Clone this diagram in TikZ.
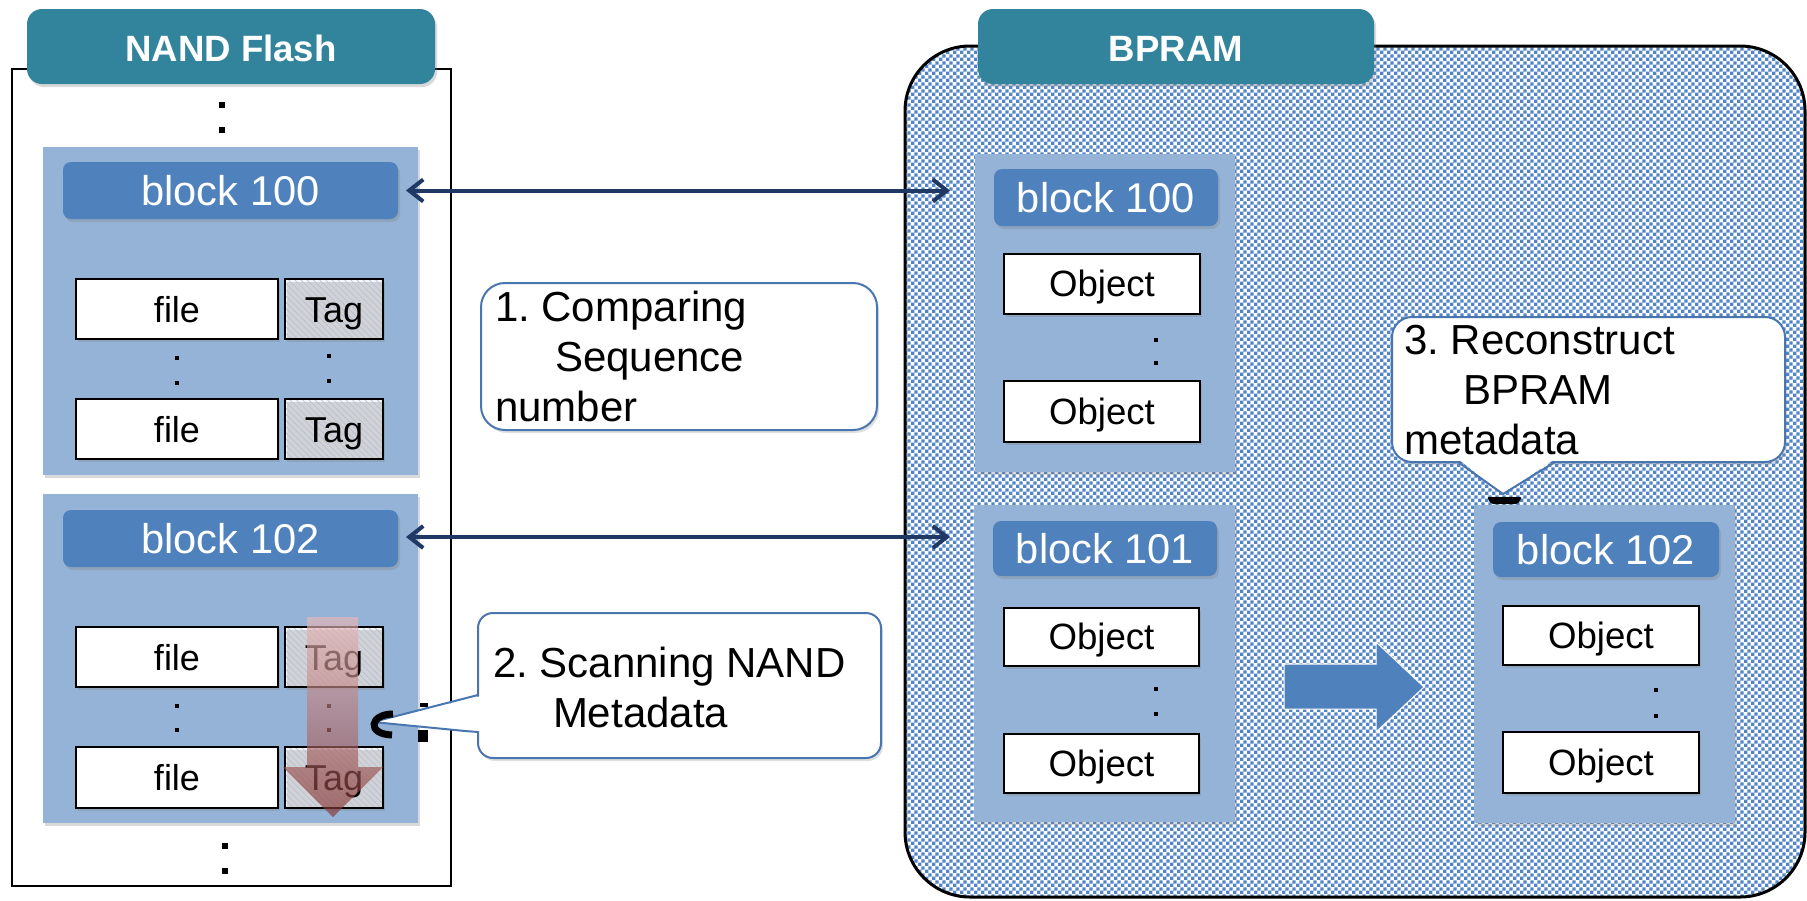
\documentclass[tikz,border=0pt]{standalone}
\usepackage{fontspec}
\setmainfont{Liberation Sans}
\usetikzlibrary{shadows,fadings,patterns,patterns.meta,arrows.meta}
\definecolor{hdrteal}{HTML}{31849B}
\definecolor{contblue}{HTML}{95B3D7}
\definecolor{hdrblue}{HTML}{4F81BD}
\definecolor{arrnavy}{HTML}{1F3864}
\definecolor{callblue}{HTML}{4A76B0}
\definecolor{arrtop}{HTML}{E8B8B8}
\definecolor{arrbot}{HTML}{853432}
\definecolor{chkblue}{HTML}{5285C8}
\definecolor{tagbg}{HTML}{F4F6FA}
\definecolor{taglines}{HTML}{B4C0D4}
\pgfdeclarepatternformonly{checker}{\pgfpointorigin}{\pgfpoint{3.4pt}{3.4pt}}{\pgfpoint{3.4pt}{3.4pt}}{%
  \pgfpathrectangle{\pgfpointorigin}{\pgfpoint{1.7pt}{1.7pt}}%
  \pgfpathrectangle{\pgfpoint{1.7pt}{1.7pt}}{\pgfpoint{1.7pt}{1.7pt}}%
  \pgfusepath{fill}}
\newcommand\mybox[7]{\node[#1, minimum width={(#5-#3)*0.5pt}, minimum height={(#6-#4)*0.5pt}] (#2) at ({(#3+#5)/2},{(#4+#6)/2}) {#7};}
\tikzset{
  shd/.style={drop shadow={opacity=0.3, shadow xshift=1pt, shadow yshift=-1.5pt}},
  outerN/.style={draw=black, line width=1pt},
  outerB/.style={draw=black, line width=1.5pt, rounded corners=32.5pt, preaction={fill=white}, pattern=checker, pattern color=chkblue},
  hdr/.style={fill=hdrteal, rounded corners=7.5pt, text=white, font=\bfseries\fontsize{18.3}{22}\selectfont, text height=15pt, text depth=0pt, shd},
  cont/.style={fill=contblue, shd},
  bhdr/.style={fill=hdrblue, rounded corners=4pt, text=white, font=\fontsize{20.8}{24}\selectfont, text height=14.5pt, text depth=0pt, shd},
  filebox/.style={fill=white, draw=black, line width=1pt, font=\fontsize{18}{20}\selectfont, text height=13pt, text depth=0pt, shd},
  tagbox/.style={draw=black, line width=1pt, preaction={fill=tagbg}, pattern={Lines[angle=-45,distance=2.2pt,line width=0.3pt]}, pattern color=taglines, font=\fontsize{18}{20}\selectfont, text height=13pt, text depth=0pt, shd},
  objbox/.style={fill=white, draw=black, line width=1pt, font=\fontsize{18.3}{20}\selectfont, text height=12.8pt, text depth=0pt, shd},
  bigdot/.style={fill=black, minimum size=3pt},
  smalldot/.style={fill=black, minimum size=2.2pt},
  dblarrow/.style={draw=arrnavy, line width=2pt, {Straight Barb[length=7pt,width=11pt]}-{Straight Barb[length=7pt,width=11pt]}},
  callbox/.style={fill=white, draw=callblue, line width=1pt, drop shadow={opacity=0.25, shadow xshift=1pt, shadow yshift=-1.5pt}},
  ctext/.style={align=left, font=\frenchspacing\fontsize{21}{25}\selectfont, text=black, anchor=north west},
}
\begin{document}
\begin{tikzpicture}[x=0.5pt, y=-0.5pt, every node/.style={inner sep=0pt, outer sep=0pt}]
\useasboundingbox (0,0) rectangle (1807,900);
% ---------------- NAND Flash ----------------
\mybox{outerN}{nandbox}{12}{69}{451}{886}{}
\mybox{hdr}{nandhdr}{27}{9}{435}{84}{NAND Flash}
\node[bigdot] (nd1) at (222,105) {};
\node[bigdot] (nd2) at (222,130) {};
\mybox{cont}{nb100}{43}{147}{418}{475}{}
\mybox{bhdr}{nh100}{63}{162}{398}{219}{block 100}
\mybox{filebox}{nf1}{76}{279}{278}{339}{file}
\mybox{tagbox}{nt1}{285}{279}{383}{339}{Tag}
\node[smalldot] (nd3) at (177,358) {};
\node[smalldot] (nd4) at (177,383) {};
\node[smalldot] (nd5) at (329,356) {};
\node[smalldot] (nd6) at (329,381) {};
\mybox{filebox}{nf2}{76}{399}{278}{459}{file}
\mybox{tagbox}{nt2}{285}{399}{383}{459}{Tag}
\mybox{cont}{nb102}{43}{494}{418}{823}{}
\mybox{bhdr}{nh102}{63}{510}{398}{567}{block 102}
\mybox{filebox}{nf3}{76}{627}{278}{687}{file}
\mybox{tagbox}{nt3}{285}{627}{383}{687}{Tag}
\node[smalldot] (nd7) at (177,706) {};
\node[smalldot] (nd8) at (177,730) {};
\node[smalldot] (nd9) at (329,706) {};
\node[smalldot] (nd10) at (329,730) {};
\mybox{filebox}{nf4}{76}{747}{278}{808}{file}
\mybox{tagbox}{nt4}{285}{747}{383}{808}{Tag}
\node[bigdot] (nd11) at (225,846) {};
\node[bigdot] (nd12) at (225,871) {};
% ---------------- BPRAM ----------------
\mybox{outerB}{bpram}{905}{46}{1805}{897}{}
\mybox{hdr}{bpramhdr}{978}{9}{1374}{84}{BPRAM}
\mybox{cont}{bb100}{975}{154}{1235}{472}{}
\mybox{bhdr}{bh100}{994}{169}{1218}{226}{block 100}
\mybox{objbox}{bo1}{1004}{254}{1200}{314}{Object}
\node[smalldot] (bd1) at (1156,340) {};
\node[smalldot] (bd2) at (1156,363) {};
\mybox{objbox}{bo2}{1004}{381}{1200}{442}{Object}
\mybox{cont}{bb101}{974}{505}{1235}{822}{}
\mybox{bhdr}{bh101}{993}{521}{1217}{576}{block 101}
\mybox{objbox}{bo3}{1004}{608}{1199}{666}{Object}
\node[smalldot] (bd3) at (1156,689) {};
\node[smalldot] (bd4) at (1156,714) {};
\mybox{objbox}{bo4}{1004}{734}{1199}{793}{Object}
\mybox{cont}{bb102}{1474}{505}{1735}{823}{}
\mybox{bhdr}{bh102}{1493}{522}{1719}{577}{block 102}
\mybox{objbox}{bo5}{1503}{606}{1699}{665}{Object}
\node[smalldot] (bd5) at (1656,690) {};
\node[smalldot] (bd6) at (1656,716) {};
\mybox{objbox}{bo6}{1503}{732}{1699}{793}{Object}
% block arrow 101 -> 102
\fill[hdrblue, draw=white, line width=0.5pt] (1284,664) -- (1376,664) -- (1376,642) -- (1424,687) -- (1376,732) -- (1376,709) -- (1284,709) -- cycle;
% ---------------- double arrows ----------------
\draw[dblarrow, shorten <=4pt, shorten >=12.5pt] (nh100.east) -- (nh100.east -| bb100.west);
\draw[dblarrow, shorten <=4pt, shorten >=12pt] ([yshift=0.75pt]nh102.east) -- ([yshift=0.75pt]nh102.east -| bb101.west);
% ---------------- callout 1 ----------------
\mybox{callbox, rounded corners=12pt}{c1}{481}{283}{877}{430}{}
\node[ctext] (c1t) at (495,289) {\rule{0pt}{16pt}1. Comparing\\\hspace*{30pt}Sequence\\number};
% ---------------- callout 2 ----------------
\mybox{callbox, rounded corners=7.5pt}{c2}{478}{613}{881}{758}{}
\fill[white] (481,696) -- (373,722) -- (465,731) -- (481,731) -- cycle;
\draw[callblue, line width=1pt, line join=round] (478,695) -- (373,722) -- (465,731) -- (478,732);
\node[ctext] (c2t) at (493,645) {\rule{0pt}{16pt}2. Scanning NAND\\\hspace*{30pt}Metadata};
\draw[black, line width=3.5pt] (393,714) .. controls (370,714) and (366,734) .. (392,735);
\fill[black] (418,730) rectangle (428,742);
\fill[black] (420,703) rectangle (428,707);
% ---------------- callout 3 ----------------
\mybox{callbox, rounded corners=10pt}{c3}{1392}{317}{1785}{462}{}
\fill[white] (1458,459) -- (1503,494) -- (1555,459) -- cycle;
\draw[callblue, line width=1pt, line join=round] (1458,462) -- (1503,494) -- (1555,462);
\node[ctext] (c3t) at (1404,322) {\rule{0pt}{16pt}3. Reconstruct\\\hspace*{29.5pt}BPRAM\\metadata};
\fill[black, rounded corners=1pt] (1487,497) -- (1522,497) -- (1518,504) -- (1491,504) -- cycle;
% ---------------- red scan arrow ----------------
\shade[top color=arrtop, bottom color=arrbot, fill opacity=0.65] (307,617) -- (358,617) -- (358,767) -- (383,767) -- (333,817) -- (283,767) -- (307,767) -- cycle;
\end{tikzpicture}
\end{document}
